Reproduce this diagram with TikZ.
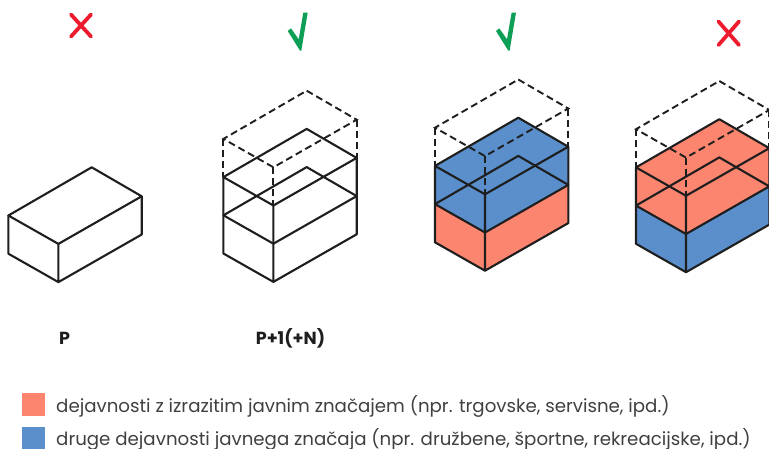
\documentclass[tikz,border=0pt]{standalone}
\usepackage{fontspec}
\setmainfont{Poppins}
\definecolor{salmon}{HTML}{FC8570}
\definecolor{bluef}{HTML}{5A8FCC}
\definecolor{inkc}{HTML}{1E1E1E}
\definecolor{redx}{HTML}{EC1C2E}
\definecolor{greenc}{HTML}{0E9F57}
\tikzset{
  edge/.style={draw=inkc,line width=2.1pt,line join=round,line cap=round},
  dashline/.style={draw=inkc,line width=1.9pt,dash pattern=on 7pt off 4pt},
  badx/.style={draw=redx,line width=3.8pt,line cap=round},
  good/.style={fill=greenc,draw=none},
  lab/.style={font=\bfseries\fontsize{17.5}{20}\selectfont,text=inkc,inner sep=0pt},
  leg/.style={font=\fontsize{18.2}{20}\selectfont,text=inkc!85,inner sep=0pt,anchor=base west},
}
% level L corners: a(pex), r(ight), l(eft), f(ront) at step of 38.2 px
\newcommand{\levelcoords}[2]{%
  \coordinate (a#1) at (0,#2);
  \coordinate (r#1) at (50,29+#2);
  \coordinate (l#1) at (-83.3,48.2+#2);
  \coordinate (f#1) at (-33.3,76.6+#2);
}
\newcommand{\levelloop}[1]{(a#1) -- (r#1) -- (f#1) -- (l#1) -- cycle}
\newcommand{\towercoords}{%
  \levelcoords{0}{0}\levelcoords{1}{38.2}\levelcoords{2}{76.4}\levelcoords{3}{114.6}%
}
\newcommand{\towerlines}{%
  \draw[dashline] \levelloop{0};
  \draw[dashline] (l0) -- (l1) (r0) -- (r1) (f0) -- (f1);
  \draw[edge] \levelloop{1};
  \draw[edge] \levelloop{2};
  \draw[edge] (l1) -- (l3) -- (f3) -- (r3) -- (r1) (f1) -- (f3);
}
\newcommand{\towerfill}[2]{%
  \fill[#1] (a1) -- (r1) -- (r2) -- (f2) -- (l2) -- (l1) -- cycle;
  \fill[#2] (l2) -- (f2) -- (r2) -- (r3) -- (f3) -- (l3) -- cycle;
}
\newcommand{\tickmark}{\fill[good] (287.7,31) -- (291,28.3) -- (298.7,39.3) -- (303.3,12.7) -- (307.7,12.7) -- (301.3,50.7) -- (300,50.7) -- cycle;}
\begin{document}
\begin{tikzpicture}[x=1pt,y=-1pt]
\useasboundingbox (0,0) rectangle (769,448);
% marks
\draw[badx] (71,14.5) -- (91,36.5) (91,14.5) -- (71,36.5);
\tickmark
\begin{scope}[shift={(208.3,0)}]\tickmark\end{scope}
\draw[badx] (718.5,21.5) -- (739,45) (739,21.5) -- (718.5,45);
% single box
\begin{scope}[shift={(91.7,167.3)}]
  \levelcoords{0}{0}\levelcoords{1}{38.2}
  \draw[edge] \levelloop{0};
  \draw[edge] (l0) -- (l1) -- (f1) -- (r1) -- (r0) (f0) -- (f1);
\end{scope}
% tower P+1
\begin{scope}[shift={(306.7,90.7)}]
  \towercoords
  \towerlines
\end{scope}
% tower blue over salmon
\begin{scope}[shift={(518.3,79.5)}]
  \towercoords
  \towerfill{bluef}{salmon}
  \towerlines
\end{scope}
% tower salmon over blue
\begin{scope}[shift={(719.3,81)}]
  \towercoords
  \towerfill{salmon}{bluef}
  \towerlines
\end{scope}
% labels
\node[lab] (p) at (64.5,338) {P};
\node[lab] (pn) at (290.5,338) {P+1(+N)};
% legend
\fill[salmon] (21.7,393.3) rectangle (44.7,416);
\fill[bluef] (21.7,426.7) rectangle (44.7,449);
\node[leg] (t1) at (56,412) {dejavnosti z izrazitim javnim značajem (npr. trgovske, servisne, ipd.)};
\node[leg] (t2) at (56,445) {druge dejavnosti javnega značaja (npr. družbene, športne, rekreacijske, ipd.)};
\end{tikzpicture}
\end{document}
